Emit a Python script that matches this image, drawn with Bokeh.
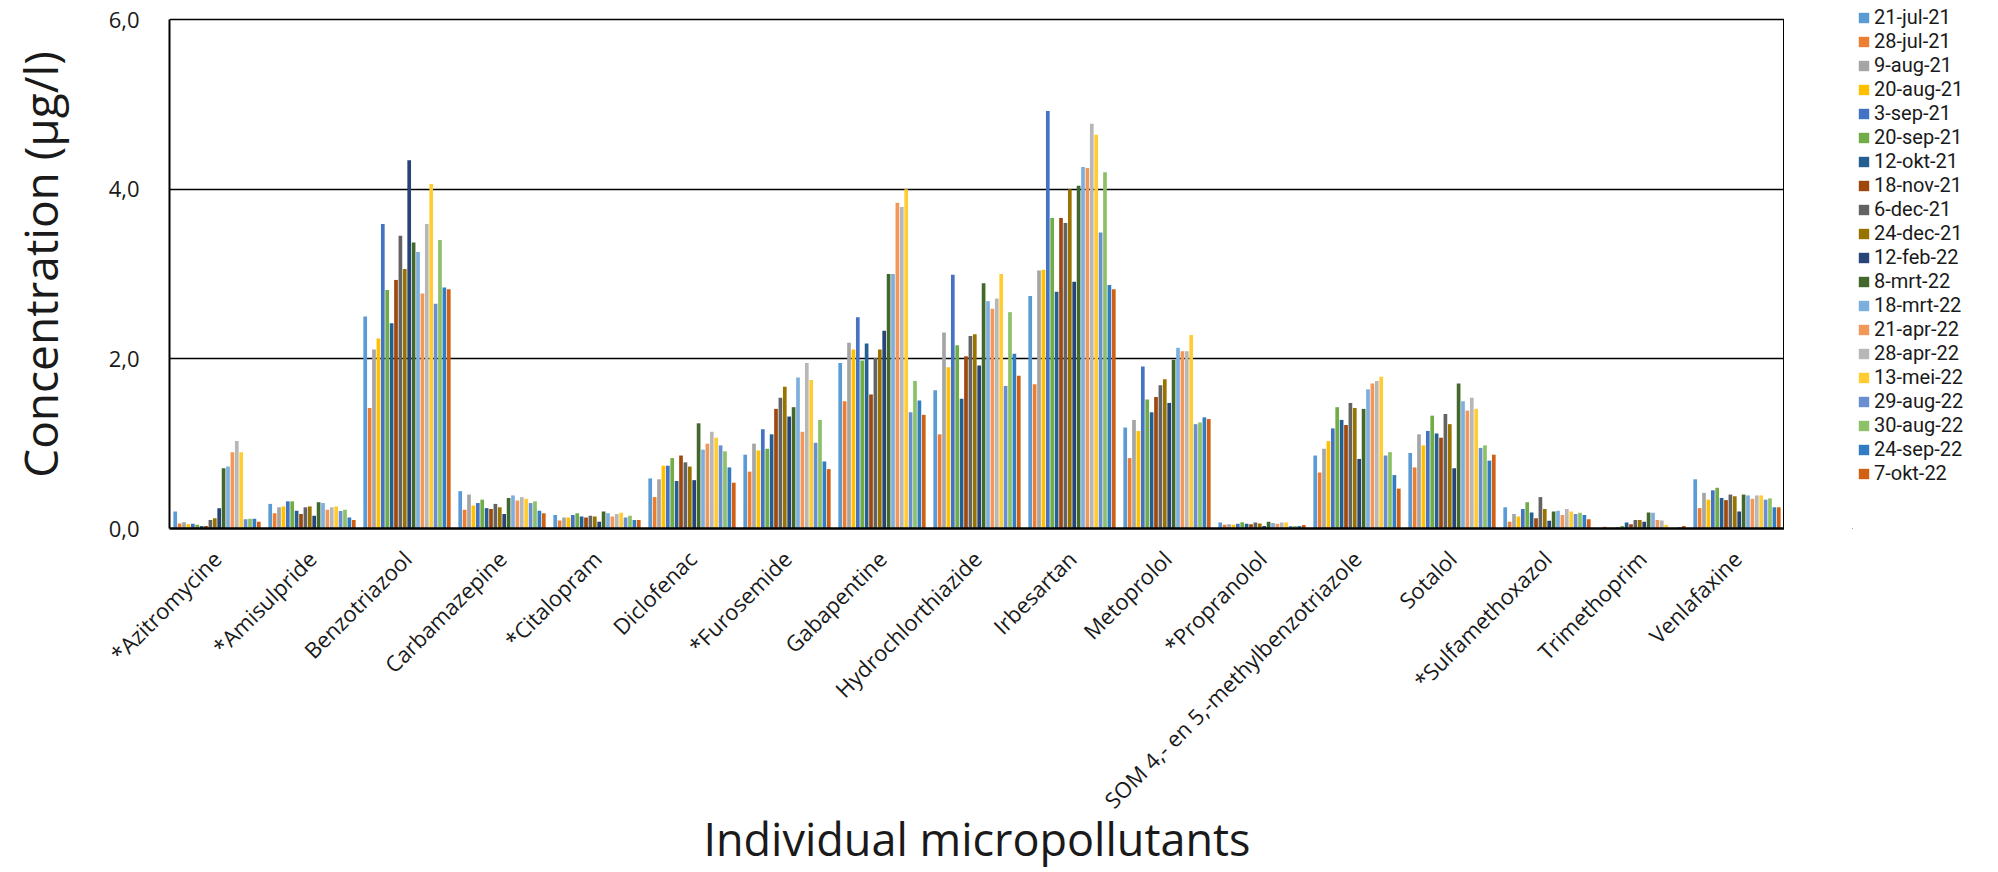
import math
from bokeh.plotting import figure
from bokeh.layouts import row
from bokeh.models import (ColumnDataSource, FactorRange, Range1d, FixedTicker,
                          Legend, LegendItem)
from bokeh.transform import dodge
from bokeh.embed import file_html
from bokeh.resources import INLINE

categories = ["*Azitromycine", "*Amisulpride", "Benzotriazool", "Carbamazepine",
              "*Citalopram", "Diclofenac", "*Furosemide", "Gabapentine",
              "Hydrochlorthiazide", "Irbesartan", "Metoprolol", "*Propranolol",
              "SOM 4,- en 5,-methylbenzotriazole", "Sotalol", "*Sulfamethoxazol",
              "Trimethoprim", "Venlafaxine"]

dates = ["21-jul-21", "28-jul-21", "9-aug-21", "20-aug-21", "3-sep-21", "20-sep-21",
         "12-okt-21", "18-nov-21", "6-dec-21", "24-dec-21", "12-feb-22", "8-mrt-22",
         "18-mrt-22", "21-apr-22", "28-apr-22", "13-mei-22", "29-aug-22", "30-aug-22",
         "24-sep-22", "7-okt-22"]

colors = ["#5B9BD5", "#ED7D31", "#A5A5A5", "#FFC000", "#4472C4", "#70AD47",
          "#255E91", "#9E480E", "#636363", "#997300", "#264478", "#43682B",
          "#7CAFDD", "#F1975A", "#B7B7B7", "#FFCD33", "#698ED0", "#8CC168",
          "#327DC2", "#D26012"]

# values per compound, one value per sampling date (order of `dates`)
azitromycine = [0.20, 0.06, 0.075, 0.05, 0.055, 0.045, 0.03, 0.03, 0.10, 0.12,
                0.24, 0.71, 0.73, 0.90, 1.03, 0.90, 0.11, 0.115, 0.115, 0.08]
amisulpride = [0.29, 0.18, 0.25, 0.26, 0.32, 0.32, 0.21, 0.17, 0.25, 0.26,
               0.15, 0.31, 0.30, 0.22, 0.25, 0.26, 0.205, 0.22, 0.13, 0.10]
benzotriazool = [2.50, 1.42, 2.11, 2.24, 3.59, 2.81, 2.42, 2.93, 3.45, 3.06,
                 4.34, 3.37, 3.26, 2.77, 3.59, 4.06, 2.65, 3.40, 2.84, 2.82]
carbamazepine = [0.44, 0.22, 0.40, 0.27, 0.30, 0.34, 0.24, 0.23, 0.29, 0.25,
                 0.17, 0.36, 0.39, 0.33, 0.37, 0.35, 0.30, 0.32, 0.21, 0.18]
citalopram = [0.16, 0.095, 0.13, 0.13, 0.16, 0.18, 0.14, 0.13, 0.15, 0.14,
              0.08, 0.20, 0.18, 0.14, 0.17, 0.185, 0.13, 0.15, 0.10, 0.10]
diclofenac = [0.59, 0.37, 0.58, 0.74, 0.74, 0.83, 0.56, 0.86, 0.78, 0.73,
              0.57, 1.24, 0.93, 1.00, 1.14, 1.07, 0.98, 0.91, 0.72, 0.54]
furosemide = [0.87, 0.67, 1.00, 0.92, 1.17, 0.94, 1.11, 1.41, 1.54, 1.67,
              1.32, 1.43, 1.78, 1.14, 1.95, 1.75, 1.01, 1.28, 0.79, 0.70]
gabapentine = [1.95, 1.50, 2.19, 2.11, 2.49, 1.98, 2.18, 1.58, 2.01, 2.11,
               2.33, 3.00, 3.00, 3.84, 3.79, 4.00, 1.37, 1.74, 1.51, 1.34]
hydrochlorthiazide = [1.63, 1.11, 2.31, 1.90, 2.99, 2.16, 1.53, 2.03, 2.27, 2.29,
                      1.92, 2.89, 2.68, 2.59, 2.71, 3.00, 1.68, 2.55, 2.06, 1.80]
irbesartan = [2.74, 1.70, 3.04, 3.05, 4.92, 3.66, 2.79, 3.66, 3.60, 4.00,
              2.91, 4.04, 4.26, 4.25, 4.77, 4.64, 3.49, 4.20, 2.87, 2.82]
metoprolol = [1.19, 0.83, 1.28, 1.15, 1.91, 1.52, 1.37, 1.55, 1.69, 1.76,
              1.48, 1.99, 2.13, 2.09, 2.09, 2.28, 1.23, 1.25, 1.31, 1.29]
propranolol = [0.07, 0.045, 0.05, 0.045, 0.055, 0.075, 0.055, 0.05, 0.07, 0.06,
               0.03, 0.08, 0.065, 0.055, 0.07, 0.07, 0.03, 0.03, 0.03, 0.04]
som_methylbenzotriazole = [0.86, 0.66, 0.94, 1.03, 1.18, 1.43, 1.28, 1.22, 1.48, 1.42,
                           0.82, 1.41, 1.64, 1.71, 1.74, 1.79, 0.86, 0.90, 0.63, 0.47]
sotalol = [0.89, 0.72, 1.11, 0.98, 1.15, 1.33, 1.12, 1.07, 1.35, 1.23,
           0.71, 1.71, 1.50, 1.39, 1.54, 1.41, 0.95, 0.98, 0.80, 0.87]
sulfamethoxazol = [0.25, 0.08, 0.17, 0.14, 0.23, 0.31, 0.19, 0.12, 0.37, 0.23,
                   0.09, 0.20, 0.21, 0.16, 0.23, 0.20, 0.17, 0.185, 0.16, 0.11]
trimethoprim = [0.0, 0.02, 0.01, 0.01, 0.015, 0.03, 0.07, 0.05, 0.10, 0.10,
                0.08, 0.19, 0.185, 0.10, 0.095, 0.045, 0.0, 0.0, 0.015, 0.03]
venlafaxine = [0.58, 0.24, 0.42, 0.34, 0.45, 0.48, 0.36, 0.335, 0.40, 0.38,
               0.20, 0.40, 0.39, 0.35, 0.39, 0.39, 0.34, 0.355, 0.25, 0.25]

compound_values = [azitromycine, amisulpride, benzotriazool, carbamazepine, citalopram,
                   diclofenac, furosemide, gabapentine, hydrochlorthiazide, irbesartan,
                   metoprolol, propranolol, som_methylbenzotriazole, sotalol,
                   sulfamethoxazol, trimethoprim, venlafaxine]

y_ticks = [0, 2, 4, 6]
y_tick_labels = ["0,0", "2,0", "4,0", "6,0"]

FONT = "Open Sans"
LEGEND_FONT = "Roboto"
TXT = "#1a1a1a"

data = {"cat": categories}
for i in range(len(dates)):
    data[f"v{i}"] = [vals[i] for vals in compound_values]
src = ColumnDataSource(data)

ncat = len(categories)
y_max = y_ticks[-1]

# ---------------- main chart ----------------
# frame runs to the top of the page; the 0..6 span occupies its lower 509 of 528 px
p = figure(x_range=FactorRange(*categories, range_padding=0),
           y_range=Range1d(0, y_max * 528 / 509),
           width=1784, height=872, output_backend="svg", toolbar_location=None,
           min_border_left=169, min_border_right=0, min_border_top=0,
           min_border_bottom=344)
p.outline_line_color = None
p.xgrid.grid_line_color = None
p.ygrid.ticker = FixedTicker(ticks=y_ticks[1:])
p.ygrid.grid_line_color = "black"
p.ygrid.grid_line_width = 1.5
# right edge of the plot area
p.segment(x0=[ncat], x1=[ncat], y0=[0], y1=[y_max], line_color="black", line_width=3)

n = len(dates)
slot = 0.926 / n
for i, c in enumerate(colors):
    off = (i - (n - 1) / 2) * slot
    p.vbar(x=dodge("cat", off, range=p.x_range), top=f"v{i}", width=slot * 0.84,
           source=src, fill_color=c, line_color=None)

xa = p.xaxis[0]
xa.major_label_orientation = math.pi / 4
xa.major_tick_line_color = None
xa.minor_tick_line_color = None
xa.axis_line_color = "black"
xa.axis_line_width = 2.5
xa.major_label_standoff = 20
xa.major_label_text_font = FONT
xa.major_label_text_font_size = "22px"
xa.major_label_text_color = TXT
xa.axis_label = "Individual micropollutants"
xa.axis_label_text_font = FONT
xa.axis_label_text_font_size = "45px"
xa.axis_label_text_font_style = "normal"
xa.axis_label_text_color = TXT
xa.axis_label_standoff = -20

ya = p.yaxis[0]
ya.bounds = (0, y_max)
ya.ticker = FixedTicker(ticks=y_ticks)
ya.major_label_overrides = dict(zip(y_ticks, y_tick_labels))
ya.major_tick_line_color = None
ya.minor_tick_line_color = None
ya.axis_line_color = "black"
ya.axis_line_width = 2
ya.major_label_standoff = 24
ya.major_label_text_font = FONT
ya.major_label_text_font_size = "22px"
ya.major_label_text_color = TXT
ya.axis_label = "Concentration (µg/l)"
ya.axis_label_text_font = FONT
ya.axis_label_text_font_size = "46px"
ya.axis_label_text_font_style = "normal"
ya.axis_label_text_color = TXT
ya.axis_label_standoff = 35

# ---------------- legend panel ----------------
lg = figure(width=214, height=872, output_backend="svg", toolbar_location=None,
            x_range=Range1d(0, 1), y_range=Range1d(0, 1),
            x_axis_type=None, y_axis_type=None,
            min_border_left=68, min_border_right=0, min_border_top=0,
            min_border_bottom=0)
lg.outline_line_color = None
lg.grid.grid_line_color = None
swatches = []
for c in colors:
    # off-screen swatch renderer: only its colour is shown, in the legend
    swatches.append(lg.vbar(x=[-1], top=[-1], width=0.1, fill_color=c, line_color=None))

legend = Legend(items=[LegendItem(label=d, renderers=[r]) for d, r in zip(dates, swatches)],
                location="top_left", orientation="vertical",
                border_line_color=None, background_fill_alpha=0,
                padding=0, margin=5, spacing=0, label_height=20,
                glyph_height=13, glyph_width=13, label_standoff=4,
                label_text_font_size="20px", label_text_font=LEGEND_FONT,
                label_text_color=TXT)
lg.add_layout(legend)

layout = row(p, lg)
open("out.html", "w").write(file_html(layout, INLINE))
